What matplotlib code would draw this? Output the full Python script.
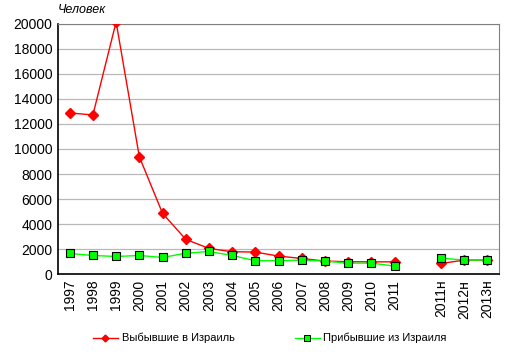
import numpy as np
import matplotlib.pyplot as plt
from matplotlib.lines import Line2D

plt.rcParams['font.family'] = ['Liberation Sans', 'DejaVu Sans']

# Данные (читаем с графика)
categories = ['1997', '1998', '1999', '2000', '2001', '2002', '2003', '2004',
              '2005', '2006', '2007', '2008', '2009', '2010', '2011', '',
              '2011н', '2012н', '2013н']
left_to_israel = [12880, 12720, 20150, 9380, 4860, 2780, 2050, 1790,
                  1760, 1440, 1250, 1040, 990, 980, 980, np.nan,
                  850, 1120, 1120]
arrived_from_israel = [1650, 1490, 1410, 1490, 1330, 1670, 1810, 1490,
                       1070, 1070, 1120, 1040, 880, 880, 640, np.nan,
                       1280, 1120, 1120]
y_ticks = list(range(0, 20001, 2000))

fig = plt.figure(figsize=(5.14, 3.56), dpi=100)
ax = fig.add_axes([0.113, 0.230, 0.858, 0.703])

x = np.arange(len(categories))
ax.plot(x, left_to_israel, color='#ff0000', lw=1.0, marker='D', ms=5.5,
        mfc='#ff0000', mec='#ff0000', zorder=3)
ax.plot(x, arrived_from_israel, color='#00ff00', lw=1.0, marker='s', ms=5.5,
        mfc='#00ff00', mec='#000000', mew=0.8, zorder=4)

ax.set_xlim(-0.5, len(categories) - 0.5)
ax.set_ylim(0, 20000)
ax.set_yticks(y_ticks)
ax.set_yticklabels([str(v) for v in y_ticks], fontsize=10)
ax.set_xticks(x)
ax.set_xticklabels(categories, rotation=90, fontsize=10)
ax.tick_params(length=0, pad=4)

ax.grid(axis='y', color='#b8b8b8', lw=0.9)
ax.set_axisbelow(True)
for s in ['top', 'right']:
    ax.spines[s].set_color('#808080')
for s in ['left', 'bottom']:
    ax.spines[s].set_color('#000000')
    ax.spines[s].set_linewidth(1.2)

fig.text(0.113, 0.955, 'Человек', fontsize=9, style='italic', ha='left', va='bottom')

# легенда с маленькими маркерами, как в оригинале
handles = [
    Line2D([], [], color='#ff0000', lw=1.0, marker='D', ms=3.5, mfc='#ff0000', mec='#ff0000'),
    Line2D([], [], color='#00ff00', lw=1.0, marker='s', ms=4, mfc='#00ff00', mec='#000000', mew=0.7),
]
fig.legend(handles, ['Выбывшие в Израиль', 'Прибывшие из Израиля'],
           loc='center', bbox_to_anchor=(0.525, 0.05), ncol=2, frameon=False,
           fontsize=8, handlelength=2.25, columnspacing=5.4, handletextpad=0.35)

fig.savefig('out.png', dpi=100)
